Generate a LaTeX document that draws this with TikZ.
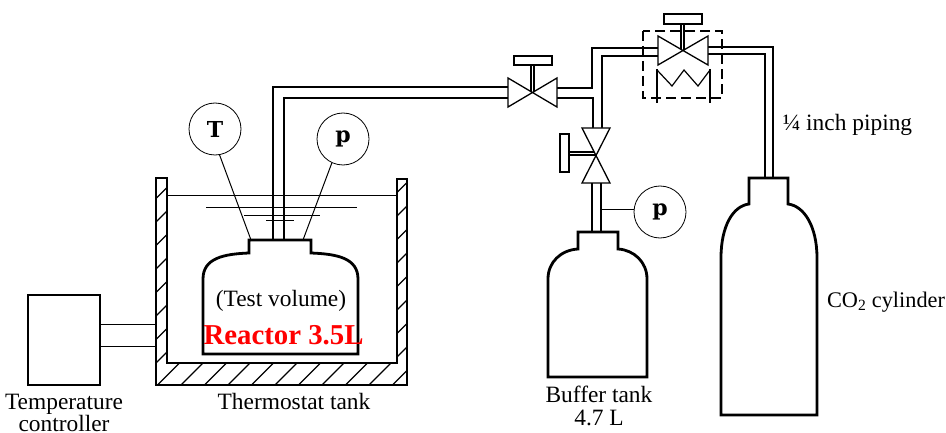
\documentclass[tikz,border=0pt]{standalone}
\usepackage{fontspec}
\setmainfont{Liberation Serif}
\newfontfamily\gaugefont{DejaVu Serif}

\begin{document}
\begin{tikzpicture}[
       x=1pt,
       y=-1pt,
       line join=miter,
       vessel/.style={
         line width=2.8pt
       },
       pipe/.style={
         line width=1.2pt
       },
       valve/.style={
         line width=1.3pt,
         fill=white
       },
       wire/.style={
         line width=1pt
       },
       gauge/.style={
         circle,
         draw,
         fill=white,
         line width=0.8pt,
         inner sep=0pt,
         minimum size=52pt,
         font=\gaugefont\bfseries\fontsize{22}{22}\selectfont
       },
       ctrlbox/.style={
         rectangle,
         draw,
         line width=1.8pt,
         inner sep=0pt,
         minimum width=72pt,
         minimum height=90pt
       },
       txt/.style={
         inner sep=0pt,
         font=\fontsize{23.4}{23.4}\selectfont
       }
     ]

       \useasboundingbox (0,0) rectangle (946,433);

       % thermostat tank
       \begin{scope}
         \clip (156,178) -- (167,178) -- (167,363) -- (397,363) -- (397,179)
           -- (407,179) -- (407,385) -- (156,385) -- cycle;
         \foreach \s in {331,354.5,...,800}
           \draw [line width=1.3pt] ({\s-140},140) -- ({\s-400},400);
       \end{scope}
       \draw [line width=1.3pt] (156,178) -- (167,178) -- (167,363) -- (397,363) -- (397,179)
           -- (407,179) -- (407,385) -- (156,385) -- cycle;

       % water
       \draw [wire] (167,196) -- (397,196);
       \draw [wire] (206,208) -- (357,208);
       \draw [wire] (244,216) -- (320,216);
       \draw [wire] (266,221) -- (294,221);

       % vessels
       \draw [vessel] (249,253) -- (249,240) -- (311,240) -- (311,253)
           .. controls (337,254) and (358,258) .. (358,279) -- (358,354) -- (203,354) -- (203,279)
           .. controls (203,258) and (224,254) .. (249,253) -- cycle;
       \draw [vessel] (578,249) -- (578,232) -- (618,232) -- (618,249)
           .. controls (634,250) and (647,262) .. (647,279) -- (647,377) -- (548,377) -- (548,279)
           .. controls (548,262) and (561,250) .. (578,249) -- cycle;
       \draw [vessel] (749,204) -- (749,178) -- (788,178) -- (788,204)
           .. controls (804,206) and (817,226) .. (817,258) -- (817,415) -- (721,415) -- (721,258)
           .. controls (721,226) and (733,206) .. (749,204) -- cycle;

       % pipes
       \draw [pipe] (273,240) -- (273,87) -- (508,87);
       \draw [pipe] (284,240) -- (284,98) -- (508,98);
       \draw [pipe] (557,88) -- (592,88) -- (592,48) -- (658,48);
       \draw [pipe] (557,98) -- (593,98) -- (593,128);
       \draw [pipe] (602,128) -- (602,56) -- (658,56);
       \draw [pipe] (592,183) -- (592,232);
       \draw [pipe] (601,183) -- (601,232);
       \draw [pipe] (708,47) -- (773,47) -- (773,178);
       \draw [pipe] (708,54) -- (765,54) -- (765,178);

       % valves
       \draw [pipe] (531,65) -- (531,92);
       \draw [pipe] (534,65) -- (534,92);
       \draw [valve] (514,56) rectangle (552,65);
       \draw [valve] (508,78) -- (557,107) -- (557,78) -- (508,107) -- cycle;

       \draw [pipe] (681,24) -- (681,51);
       \draw [pipe] (684,24) -- (684,51);
       \draw [valve] (664,14) rectangle (702,24);
       \draw [valve] (658,36) -- (708,65) -- (708,36) -- (658,65) -- cycle;

       \draw [pipe] (569,152) -- (596,152);
       \draw [pipe] (569,155) -- (596,155);
       \draw [valve] (560,134) rectangle (569,172);
       \draw [valve] (582,128) -- (610,183) -- (582,183) -- (610,128) -- cycle;

       % regulator
       \draw [line width=1.2pt, dash pattern=on 10pt off 5pt] (643,31) rectangle (722,98);
       \draw [pipe] (657,69) -- (657,103);
       \draw [pipe] (710,69) -- (710,103);
       \draw [pipe] (657,70) -- (672,86) -- (684,70) -- (698,86) -- (710,70);

       % gauges
       \node (gT) at (215,129) [gauge]{T};
       \node (gp) at (343,139) [gauge]{\raisebox{-4pt}{p}};
       \node (gb) at (660,212) [gauge]{\raisebox{-4pt}{p}};
       \coordinate (tT) at (251,240);
       \coordinate (tp) at (303,240);
       \coordinate (tb) at (602,210);
       \draw [wire] (gT.-80) -- (tT);
       \draw [wire] (gp.-115) -- (tp);
       \draw [wire] (tb) -- (tb -| gb.west);

       % controller
       \node (ctrl) at (64,340) [ctrlbox]{};
       \coordinate (h1) at (157,324);
       \coordinate (h2) at (157,346);
       \draw [wire] (ctrl.east |- h1) -- (h1);
       \draw [wire] (ctrl.east |- h2) -- (h2);

       % labels
       \node (l1) at (64,404) [txt]{Temperature};
       \node (l2) at (64,423) [txt]{controller};
       \node (l3) at (294,401) [txt]{Thermostat tank};
       \node (l4) at (281,301) [txt]{(Test volume)};
       \node (l5) at (283.5,335) [txt,font=\bfseries\fontsize{28.8}{28.8}\selectfont,text=red]{Reactor 3.5L};
       \node (l6) at (599,394) [txt]{Buffer tank};
       \node (l7) at (599,418) [txt]{4.7 L};
       \node (l8) at (847.5,125) [txt]{¼ inch piping};
       \node (l9) at (886,302) [txt,font=\fontsize{22.3}{22.3}\selectfont]{CO\textsubscript{2} cylinder};

\end{tikzpicture}
\end{document}
